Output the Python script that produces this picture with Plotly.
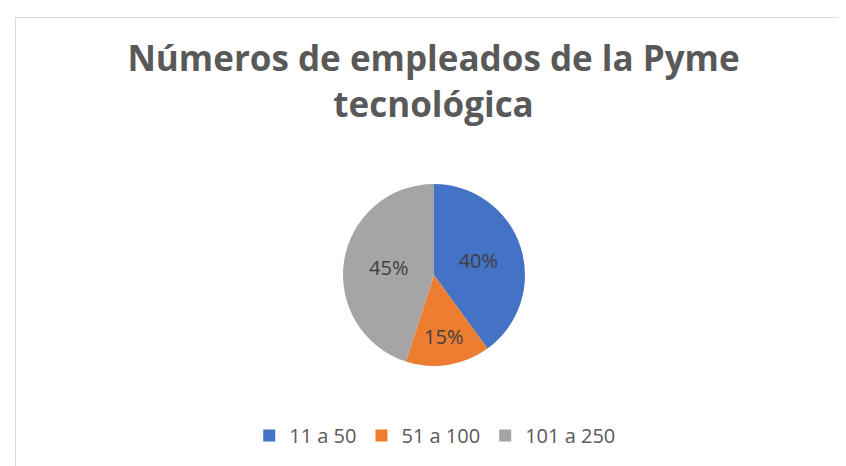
import plotly.graph_objects as go

categories = ["11 a 50", "51 a 100", "101 a 250"]
values = [40, 15, 45]
colors = ["#4472C4", "#ED7D31", "#A5A5A5"]

W, H = 846, 466
cx, cy, r = 426, 267, 91

fig = go.Figure(go.Pie(
    labels=categories,
    values=values,
    sort=False,
    direction="clockwise",
    rotation=0,
    marker=dict(colors=colors, line=dict(width=0)),
    textinfo="percent",
    texttemplate="%{percent:.0%}",
    textposition="inside",
    insidetextorientation="horizontal",
    textfont=dict(family="Open Sans", size=20, color="#404040"),
    domain=dict(x=[(cx - r) / W, (cx + r) / W], y=[1 - (cy + r) / H, 1 - (cy - r) / H]),
    hoverinfo="label+percent",
))

fig.update_layout(
    width=W, height=H,
    margin=dict(l=0, r=0, t=0, b=0),
    paper_bgcolor="white",
    title=dict(
        text="<b>Números de empleados de la Pyme<br><span style='line-height:1'>tecnológica</span></b>",
        x=0.503, xanchor="center", y=1 - 63 / H, yanchor="top",
        font=dict(family="Open Sans", size=35, color="#595959"),
    ),
    legend=dict(
        orientation="h", x=0.505, xanchor="center", y=1 - 408 / H, yanchor="top",
        font=dict(family="Open Sans", size=20, color="#595959"),
        itemwidth=30,
    ),
    shapes=[dict(type="rect", xref="paper", yref="paper",
                 x0=7.5 / W, x1=1.01, y0=-0.01, y1=1 - 9.5 / H,
                 line=dict(color="#D9D9D9", width=1))],
)

fig.write_html("out.html")
